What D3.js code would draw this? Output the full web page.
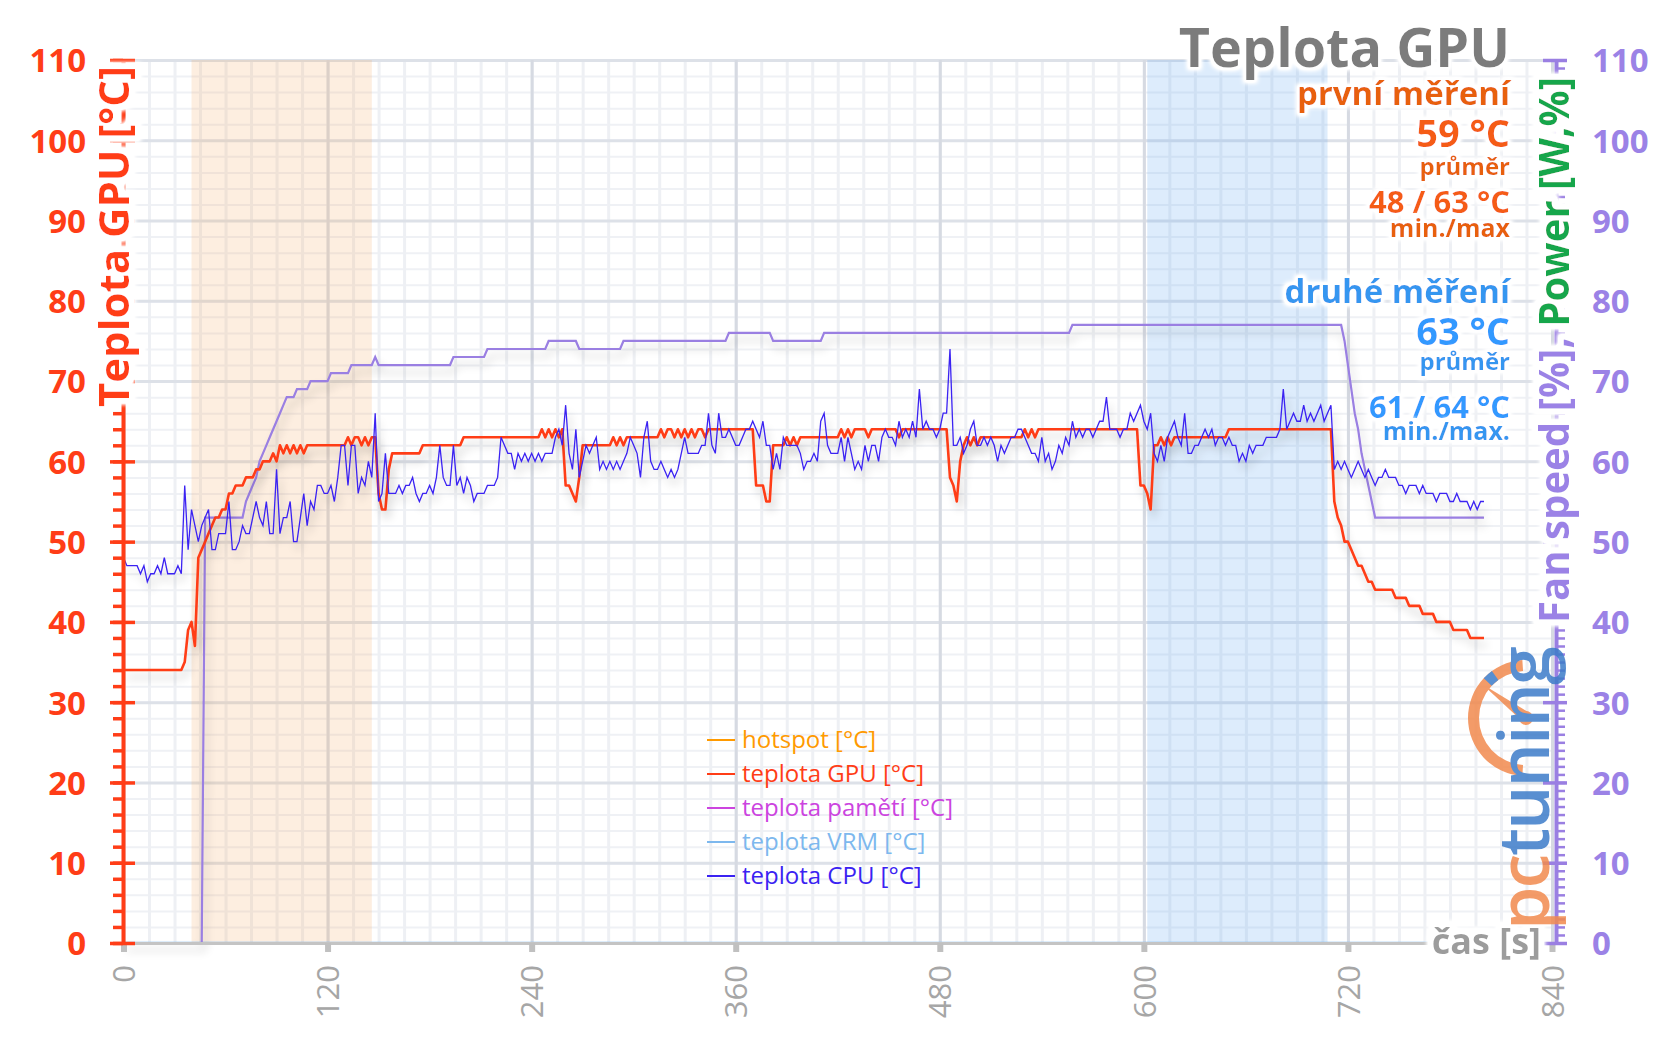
<!DOCTYPE html>
<html><head><meta charset="utf-8">
<script src="https://cdn.jsdelivr.net/npm/d3@7"></script>
<style>
html,body{margin:0;padding:0;background:#fff;}
svg{display:block;font-family:"Open Sans","Noto Sans",sans-serif;}
</style></head><body>
<svg id="chart" width="1656" height="1043"></svg>
<script>
// ---------------- DATA ----------------
const timeStep = 2; // seconds between samples, samples start at 0 s
const gpuTemp = [
34,34,34,34,34,34,34,34,34,34, 34,34,34,34,34,34,34,34,35,39,
40,37,48,49,50,51,52,53,53,54, 54,56,56,57,57,57,58,58,58,59,
59,60,60,60,61,60,62,61,62,61, 62,61,62,61,62,62,62,62,62,62,
62,62,62,62,62,62,63,62,63,63, 62,63,62,63,63,56,54,54,59,61,
61,61,61,61,61,61,61,61,62,62, 62,62,62,62,62,62,62,62,62,62,
63,63,63,63,63,63,63,63,63,63, 63,63,63,63,63,63,63,63,63,63,
63,63,63,64,63,64,63,64,63,64, 57,57,56,55,58,62,62,62,62,62,
62,62,62,62,63,62,63,62,63,63, 63,63,63,63,63,63,63,63,64,63,
64,64,63,64,63,64,63,64,63,64, 64,63,64,64,64,64,64,64,64,64,
64,64,64,64,64,64,57,57,57,55, 55,62,62,62,62,63,62,63,62,63,
63,63,63,63,63,63,63,63,63,63, 63,64,63,64,63,64,64,64,64,63,
64,64,64,64,64,64,64,64,63,64, 64,64,64,64,64,64,64,64,64,64,
64,64,64,58,57,55,60,62,63,62, 63,62,63,63,63,63,63,63,63,63,
63,63,63,63,63,64,63,64,63,64, 64,64,64,64,64,64,64,64,64,64,
64,64,64,64,64,64,64,64,64,64, 64,64,64,64,64,64,64,64,64,57,
57,56,54,62,62,63,62,63,62,63, 63,63,63,63,63,63,63,63,63,63,
63,63,63,63,63,64,64,64,64,64, 64,64,64,64,64,64,64,64,64,64,
64,64,64,64,64,64,64,64,64,64, 64,64,64,64,64,64,55,53,52,50,
50,49,48,47,47,46,45,45,44,44, 44,44,44,44,43,43,43,43,42,42,
42,42,41,41,41,41,40,40,40,40, 40,39,39,39,39,39,38,38,38,38,
38];
const cpuTemp = [
48,47,47,47,47,46,47,45,46,46, 47,46,48,46,46,46,47,46,57,49,
54,52,50,52,53,54,49,49,51,51, 51,55,49,49,50,52,51,51,53,55,
53,52,55,51,51,59,51,53,53,55, 50,50,53,56,52,55,54,57,57,56,
56,57,55,58,62,62,57,62,62,56, 58,57,60,58,66,55,56,61,56,56,
56,57,56,57,57,58,56,55,56,56, 57,56,58,62,58,57,57,62,57,58,
56,58,57,55,56,56,56,57,57,57, 58,63,62,61,61,59,61,60,61,60,
61,60,61,60,61,61,61,63,64,62, 67,61,59,64,58,60,62,61,62,63,
59,60,59,60,59,60,59,60,61,63, 62,61,58,63,65,60,59,59,60,59,
58,59,58,59,61,63,61,61,61,61, 62,62,66,62,61,66,63,63,64,63,
62,62,63,64,64,65,64,63,65,62, 62,59,61,59,63,62,62,62,62,61,
59,60,60,61,60,65,66,62,61,61, 61,63,60,63,61,59,60,59,62,60,
62,62,60,63,64,63,63,62,65,63, 64,63,65,63,69,64,65,64,64,63,
64,66,66,74,62,62,63,61,62,64, 65,62,62,63,62,63,62,60,62,61,
62,63,63,64,64,63,62,61,61,60, 63,60,61,59,60,62,61,63,62,65,
63,64,63,64,64,63,64,65,65,68, 64,64,64,63,64,64,66,65,66,67,
65,64,66,61,60,62,60,63,64,65, 63,62,66,61,61,62,62,63,64,63,
64,62,63,63,62,63,62,62,60,61, 60,62,61,62,62,62,63,63,63,63,
64,69,64,65,66,65,65,67,65,66, 65,66,67,65,66,67,59,60,59,60,
59,58,59,60,59,58,59,58,57,58, 58,59,58,58,58,57,57,56,57,57,
57,56,57,56,56,56,55,56,56,56, 55,55,56,55,55,55,54,55,54,55,
55];
const fanSpeed = [
0,0,0,0,0,0,0,0,0,0, 0,0,0,0,0,0,0,0,0,0,
0,0,0,0,53,53,53,53,53,53, 53,53,53,53,53,53,55,56,57,58,
60,61,62,63,64,65,66,67,68,68, 68,69,69,69,69,70,70,70,70,70,
70,71,71,71,71,71,71,72,72,72, 72,72,72,72,73,72,72,72,72,72,
72,72,72,72,72,72,72,72,72,72, 72,72,72,72,72,72,72,73,73,73,
73,73,73,73,73,73,73,74,74,74, 74,74,74,74,74,74,74,74,74,74,
74,74,74,74,74,75,75,75,75,75, 75,75,75,75,74,74,74,74,74,74,
74,74,74,74,74,74,74,75,75,75, 75,75,75,75,75,75,75,75,75,75,
75,75,75,75,75,75,75,75,75,75, 75,75,75,75,75,75,75,75,76,76,
76,76,76,76,76,76,76,76,76,76, 76,75,75,75,75,75,75,75,75,75,
75,75,75,75,75,75,76,76,76,76, 76,76,76,76,76,76,76,76,76,76,
76,76,76,76,76,76,76,76,76,76, 76,76,76,76,76,76,76,76,76,76,
76,76,76,76,76,76,76,76,76,76, 76,76,76,76,76,76,76,76,76,76,
76,76,76,76,76,76,76,76,76,76, 76,76,76,76,76,76,76,76,76,77,
77,77,77,77,77,77,77,77,77,77, 77,77,77,77,77,77,77,77,77,77,
77,77,77,77,77,77,77,77,77,77, 77,77,77,77,77,77,77,77,77,77,
77,77,77,77,77,77,77,77,77,77, 77,77,77,77,77,77,77,77,77,77,
77,77,77,77,77,77,77,77,77,77, 77,77,77,77,77,77,77,77,77,75,
72,69,66,64,61,59,57,55,53,53, 53,53,53,53,53,53,53,53,53,53,
53,53,53,53,53,53,53,53,53,53, 53,53,53,53,53,53,53,53,53,53,
53];
const vrmTimes = [0, 800];
const vrmTemp = [0, 0];
const xTickValues = [0, 120, 240, 360, 480, 600, 720, 840];
const yTickValues = [0, 10, 20, 30, 40, 50, 60, 70, 80, 90, 100, 110];
const measureBands = [[40, 146], [602, 708]];
const legendLabels = ["hotspot [°C]", "teplota GPU [°C]", "teplota pamětí [°C]", "teplota VRM [°C]", "teplota CPU [°C]"];
const titleText = "Teplota GPU";
const leftAxisTitle = "Teplota GPU [°C]";
const rightAxisTitleA = "Fan speed [%], ";
const rightAxisTitleB = "Power [W,%]";
const xAxisTitle = "čas [s]";
const firstStats = ["první měření", "59 °C", "průměr", "48 / 63 °C", "min./max"];
const secondStats = ["druhé měření", "63 °C", "průměr", "61 / 64 °C", "min./max."];

// ---------------- STYLE ----------------
const C = {
  red: "#FF3D17", cpu: "#3A22F2", fan: "#9A7FE2", vrm: "#7DB8EE",
  hot: "#FF9A00", mem: "#CC44DF", purpleLbl: "#9B82E6", green: "#18A64C",
  orangeLbl: "#E8600A", orangeVal: "#F55B14", blueLbl: "#3496F0", blueVal: "#3399FF",
  gray: "#7B7B7B", axisGray: "#A6A6A6"
};
const legendColors = [C.hot, C.red, C.mem, C.vrm, C.cpu];

const svg = d3.select("#chart");
const M = {left: 123.5, right: 1552, top: 60, bottom: 943};
const x = d3.scaleLinear().domain([0, 840]).range([M.left, M.right]);
const y = d3.scaleLinear().domain([0, 110]).range([M.bottom, M.top]);
const yR = d3.scaleLinear().domain([0, 110]).range([M.bottom, M.top]);

const defs = svg.append("defs");
const sh = defs.append("filter").attr("id", "lineShadow").attr("filterUnits", "userSpaceOnUse")
  .attr("x", 0).attr("y", 0).attr("width", 1656).attr("height", 1043);
sh.append("feGaussianBlur").attr("in", "SourceAlpha").attr("stdDeviation", 5).attr("result", "b");
sh.append("feOffset").attr("in", "b").attr("dx", 3).attr("dy", 7).attr("result", "o");
sh.append("feComponentTransfer").attr("in", "o").attr("result", "s")
  .append("feFuncA").attr("type", "linear").attr("slope", 0.22);
const mg = sh.append("feMerge");
mg.append("feMergeNode").attr("in", "s");
mg.append("feMergeNode").attr("in", "SourceGraphic");

function haloFilter(id, radius, blur) {
  const f = defs.append("filter").attr("id", id).attr("x", "-15%").attr("y", "-40%").attr("width", "130%").attr("height", "180%");
  f.append("feMorphology").attr("in", "SourceAlpha").attr("operator", "dilate").attr("radius", radius).attr("result", "d");
  f.append("feGaussianBlur").attr("in", "d").attr("stdDeviation", blur).attr("result", "db");
  f.append("feComponentTransfer").attr("in", "db").attr("result", "dbs")
    .append("feFuncA").attr("type", "linear").attr("slope", 1.6);
  f.append("feFlood").attr("flood-color", "#fff").attr("result", "w");
  f.append("feComposite").attr("in", "w").attr("in2", "dbs").attr("operator", "in").attr("result", "halo");
  const m = f.append("feMerge");
  m.append("feMergeNode").attr("in", "halo");
  m.append("feMergeNode").attr("in", "SourceGraphic");
}
haloFilter("halo", 3, 2);
haloFilter("haloBig", 6, 2);

// ---------------- GRID ----------------
const W = M.right - M.left, Hh = M.bottom - M.top;
function gridY(vals, color, width) {
  svg.append("g").attr("transform", `translate(${M.left},0)`)
    .call(d3.axisLeft(y).tickValues(vals).tickSize(-W).tickFormat(""))
    .call(g => g.select(".domain").remove())
    .call(g => g.selectAll("line").attr("stroke", color).attr("stroke-width", width));
}
function gridX(vals, color, width) {
  svg.append("g").attr("transform", `translate(0,${M.bottom})`)
    .call(d3.axisBottom(x).tickValues(vals).tickSize(-Hh).tickFormat(""))
    .call(g => g.select(".domain").remove())
    .call(g => g.selectAll("line").attr("stroke", color).attr("stroke-width", width));
}
gridY(d3.range(0, 111, 2), "#EFF1F5", 2);
gridX(d3.range(0, 841, 15), "#EEF0F4", 3);
gridY(yTickValues, "#DDE1E8", 3);
gridX(xTickValues, "#D6DAE2", 3);

// bands
svg.append("g").selectAll("rect").data(measureBands).join("rect")
  .attr("x", d => x(d[0])).attr("width", d => x(d[1]) - x(d[0]))
  .attr("y", M.top).attr("height", Hh)
  .attr("fill", (d, i) => i === 0 ? "rgb(245,170,100)" : "rgb(100,170,240)")
  .attr("fill-opacity", (d, i) => i === 0 ? 0.2 : 0.22);

// ---------------- LINES ----------------
const lineS = d3.line().x((d, i) => x(i * timeStep)).y(d => y(d));
const lineR = d3.line().x((d, i) => x(i * timeStep)).y(d => yR(d));
const lines = svg.append("g");
lines.append("path").datum(vrmTemp)
  .attr("d", d3.line().x((d, i) => x(vrmTimes[i])).y(d => y(d)))
  .attr("fill", "none").attr("stroke", C.vrm).attr("stroke-width", 2.5);
lines.append("path").datum(fanSpeed).attr("d", lineR)
  .attr("fill", "none").attr("stroke", C.fan).attr("stroke-width", 2.2).attr("filter", "url(#lineShadow)");
lines.append("path").datum(gpuTemp).attr("d", lineS)
  .attr("fill", "none").attr("stroke", C.red).attr("stroke-width", 2.6).attr("stroke-linejoin", "round").attr("filter", "url(#lineShadow)");
lines.append("path").datum(cpuTemp).attr("d", lineS)
  .attr("fill", "none").attr("stroke", C.cpu).attr("stroke-width", 1.3).attr("filter", "url(#lineShadow)");

// ---------------- AXES ----------------
const xa = svg.append("g").attr("transform", `translate(0,${M.bottom})`)
  .call(d3.axisBottom(x).tickValues(xTickValues).tickSize(9).tickSizeOuter(0));
xa.select(".domain").attr("stroke", "#C4C4C4").attr("stroke-width", 3);
xa.selectAll(".tick line").attr("stroke", "#C0C0C0").attr("stroke-width", 6);
xa.selectAll(".tick text").attr("transform", "rotate(-90)").attr("x", -22).attr("y", 0).attr("dy", "0.36em")
  .attr("text-anchor", "end").attr("fill", C.axisGray).attr("font-size", 31).attr("font-family", "Open Sans");

const la = svg.append("g").attr("transform", `translate(${M.left - 0.5},0)`);
la.call(d3.axisLeft(y).tickValues(d3.range(0, 111, 2)).tickSize(10).tickSizeOuter(0).tickFormat(""));
la.select(".domain").attr("stroke", C.red).attr("stroke-width", 4);
la.selectAll(".tick line").attr("stroke", C.red).attr("stroke-width", 3.5);
const laM = svg.append("g").attr("transform", `translate(${M.left - 0.5},0)`)
  .call(d3.axisLeft(y).tickValues(yTickValues).tickSize(13).tickPadding(24));
laM.select(".domain").remove();
laM.selectAll(".tick line").attr("x1", 12).attr("stroke", C.red).attr("stroke-width", 3.5);
laM.selectAll(".tick text").attr("fill", C.red).attr("font-size", 33).attr("font-weight", 700).attr("font-family", "Open Sans").attr("dy", "0.36em");

const RX = 1556;
const ra = svg.append("g").attr("transform", `translate(${RX},0)`);
ra.call(d3.axisRight(yR).tickValues(d3.range(0, 111, 1)).tickSize(9).tickSizeOuter(0).tickFormat(""));
ra.select(".domain").attr("stroke", C.fan).attr("stroke-width", 4);
ra.selectAll(".tick line").attr("stroke", C.fan).attr("stroke-width", 2.5);
const raM = svg.append("g").attr("transform", `translate(${RX},0)`)
  .call(d3.axisRight(yR).tickValues(yTickValues).tickSize(11).tickPadding(25));
raM.select(".domain").remove();
raM.selectAll(".tick line").attr("x1", -13).attr("stroke", C.fan).attr("stroke-width", 3.5);
raM.selectAll(".tick text").attr("fill", C.purpleLbl).attr("font-size", 33).attr("font-weight", 700).attr("font-family", "Open Sans").attr("dy", "0.36em");

// ---------------- TEXT ----------------
function haloText(parent, o) {
  const t = parent.append("text").attr("transform", o.transform || null)
    .attr("x", o.x || 0).attr("y", o.y || 0)
    .attr("text-anchor", o.anchor || "start")
    .attr("font-size", o.size).attr("font-weight", o.weight || 700)
    .attr("font-family", o.family || "Open Sans")
    .attr("filter", `url(#${o.filter || "halo"})`);
  if (o.length) t.attr("textLength", o.length).attr("lengthAdjust", "spacingAndGlyphs");
  o.parts.forEach(p => t.append("tspan").attr("fill", p.color).text(p.text));
  return t;
}
const txt = svg.append("g");

haloText(txt, {transform: "translate(129,66) rotate(-90)", anchor: "end", size: 42, filter: "haloBig",
  parts: [{text: leftAxisTitle, color: C.red}]});
haloText(txt, {transform: "translate(1569,77) rotate(-90)", anchor: "end", size: 42, filter: "haloBig", length: 546,
  parts: [{text: rightAxisTitleA, color: C.purpleLbl}, {text: rightAxisTitleB, color: C.green}]});
haloText(txt, {x: 1541, y: 954, anchor: "end", size: 36, filter: "haloBig", parts: [{text: xAxisTitle, color: "#9C9C9C"}]});

const RXT = 1510;
haloText(txt, {x: RXT, y: 67, anchor: "end", size: 54, parts: [{text: titleText, color: C.gray}]});
const statSizes = [33, 38, 24, 31, 25];
const firstY = [105, 147, 175, 213, 237];
const secondY = [303, 345, 370, 418, 440];
firstStats.forEach((s, i) => haloText(txt, {x: RXT, y: firstY[i], anchor: "end", size: statSizes[i],
  parts: [{text: s, color: (i === 1 || i === 3) ? C.orangeVal : C.orangeLbl}]}));
secondStats.forEach((s, i) => haloText(txt, {x: RXT, y: secondY[i], anchor: "end", size: statSizes[i],
  parts: [{text: s, color: (i === 1 || i === 3) ? C.blueVal : C.blueLbl}]}));

// legend
const lg = svg.append("g");
legendLabels.forEach((lab, i) => {
  const cy = 740 + i * 34;
  lg.append("line").attr("x1", 707).attr("x2", 735).attr("y1", cy).attr("y2", cy)
    .attr("stroke", legendColors[i]).attr("stroke-width", 2);
  lg.append("text").attr("x", 742).attr("y", cy).attr("dy", "0.35em")
    .attr("font-size", 24).attr("font-family", "Open Sans").attr("fill", legendColors[i]).text(lab);
});

// ---------------- LOGO ----------------
const logo = svg.append("g").attr("opacity", 0.85);
const lcx = 1526, lcy = 718;
logo.append("path").attr("transform", `translate(${lcx},${lcy})`)
  .attr("d", d3.arc()({innerRadius: 47, outerRadius: 58, startAngle: Math.PI * 1.02, endAngle: Math.PI * 1.98}))
  .attr("fill", "#F28A4E");
logo.append("path").attr("transform", `translate(${lcx},${lcy})`)
  .attr("d", d3.arc()({innerRadius: 47, outerRadius: 58, startAngle: Math.PI * 1.74, endAngle: Math.PI * 1.8}))
  .attr("fill", "#3D7CC9");
logo.append("path").attr("d", `M${lcx - 44},${lcy - 34} L${lcx + 2},${lcy - 6} L${lcx - 4},${lcy + 3} Z`).attr("fill", "#F28A4E");
logo.append("circle").attr("cx", lcx).attr("cy", lcy).attr("r", 7).attr("fill", "#F28A4E");
const lt = logo.append("text").attr("transform", "translate(1549,930) rotate(-90)")
  .attr("font-size", 70).attr("font-weight", 600).attr("font-family", "Open Sans").attr("letter-spacing", -2);
lt.append("tspan").attr("fill", "#F28A4E").text("pc");
lt.append("tspan").attr("fill", "#3D7CC9").text("tuning");
</script>
</body></html>
